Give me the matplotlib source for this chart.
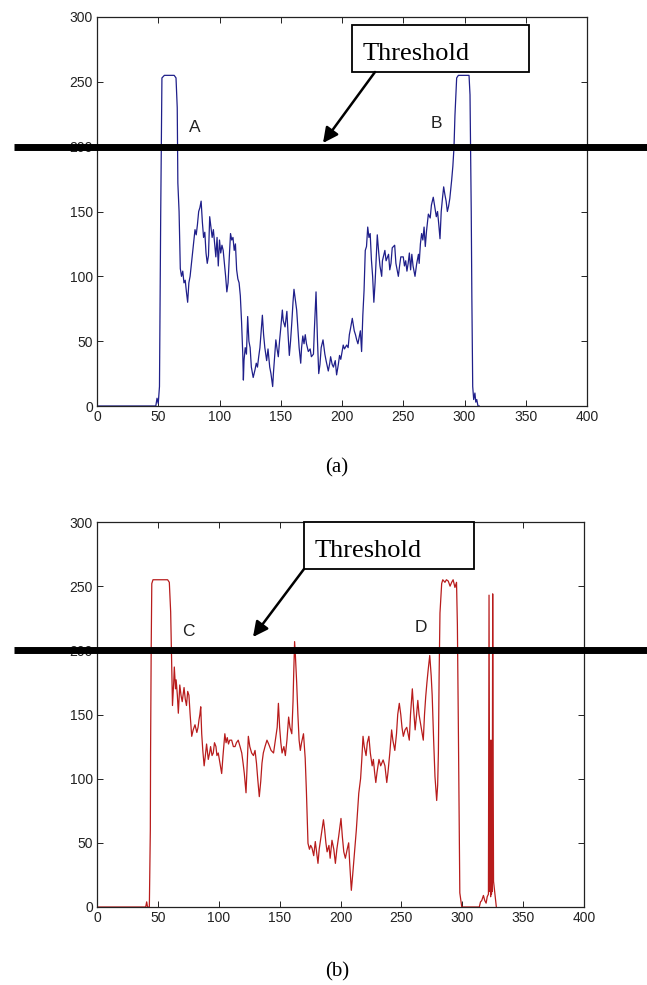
import matplotlib
matplotlib.use("Agg")
import matplotlib.pyplot as plt
import matplotlib.transforms as mtransforms
from matplotlib.patches import Rectangle, FancyArrowPatch
from matplotlib.lines import Line2D

# ---------------- data ----------------
xa = [0, 48, 49, 50, 51, 52, 53, 55, 60, 63, 64.5, 65.5, 66, 67, 68, 69, 70, 71, 72, 73, 74, 75, 76, 78, 80,
      81, 82, 83, 84, 85, 86, 87, 88, 89, 90, 91, 92, 93, 94, 95, 96, 97, 98, 99, 100, 101, 102, 103, 104,
      105, 106, 107, 108, 109, 110, 111, 112, 113, 114, 115, 116, 117, 118, 119, 119.5, 120, 121, 122, 123,
      124, 125, 126, 127.5, 129, 130, 131, 132, 133, 135, 136, 137, 138.5, 139.6, 141, 142, 143.4, 144, 146,
      147, 148, 149, 150, 151.3, 152, 153.5, 155, 156, 157, 158, 159, 160, 160.8, 161.5, 163, 164, 165,
      166.3, 167, 168, 169, 170, 171, 172.5, 174, 175, 176.7, 177.5, 178.8, 180, 181, 182, 183, 184.5, 186,
      187, 188.8, 190, 190.7, 192, 193, 194.5, 195.6, 197, 198, 199, 201, 202, 203.8, 205, 206, 207, 208.4,
      210, 211, 212, 213, 215, 216, 217, 218, 219, 220, 221, 222, 223, 224, 225, 226, 227, 228.8, 230, 231,
      232.4, 233, 235, 236, 238, 239, 240, 241, 243, 244, 246, 247, 248, 250, 251, 252, 253, 254, 255, 256,
      257, 258, 259.6, 261, 262.4, 263, 264, 265, 266, 267, 268, 269, 270.5, 272, 273, 274.5, 275.5, 277,
      278, 279, 280, 281, 282, 283, 284, 285, 286, 287, 288, 289.5, 290.5, 291.4, 292.2, 293, 293.6, 295,
      300, 303.7, 304.5, 305, 305.5, 306, 306.7, 307.5, 308.5, 309.2, 310, 311, 312]
ya = [0, 0, 6, 2, 15, 147, 253, 255, 255, 255, 253, 230, 172, 150, 106, 100, 104, 95, 97, 88, 80, 95, 100, 118, 136,
      132, 140, 150, 153, 158, 142, 130, 134, 118, 110, 116, 146, 138, 130, 136, 125, 115, 130, 108, 128, 118, 124, 120, 110,
      100, 88, 95, 115, 133, 128, 130, 120, 125, 105, 98, 95, 85, 65, 40, 20, 35, 45, 40, 69,
      50, 45, 30, 22, 28, 33, 30, 38, 45, 70, 55, 45, 35, 44, 30, 25, 15, 25, 51,
      44, 38, 50, 60, 74, 66, 61, 73, 55, 39, 50, 64, 80, 90, 85, 74, 60, 45,
      33, 45, 54, 48, 55, 48, 42, 44, 38, 40, 60, 88, 50, 25, 32, 45, 51, 40,
      35, 27, 33, 38, 32, 30, 35, 24, 32, 39, 36, 47, 44, 47, 45, 55, 60, 67.6,
      58, 55, 51, 48, 58, 42, 70, 89, 120, 123, 138, 130, 133, 113, 100, 80, 95, 132, 118, 108,
      100, 112, 120, 112, 117, 105, 110, 122, 124, 110, 100, 108, 115, 115, 108, 112, 104, 110, 118, 105,
      117, 108, 100, 110, 117, 110, 125, 133, 128, 138, 123, 135, 148, 145, 155, 161, 155, 146,
      150, 140, 129, 150, 160, 169, 163, 158, 150, 154, 160, 174, 185, 199, 224, 240, 253, 255,
      255, 255, 240, 192, 150, 84, 15, 5, 10, 3, 5, 0, 0]

xb = [0, 40, 40.8, 41.5, 43, 43.8, 44, 44.5, 45, 46, 50, 55, 58, 59.4, 60.5, 61.3, 62, 63, 63.5, 64.5, 65, 66,
      66.8, 68, 69, 70, 71.5, 72.5, 73.5, 74.5, 75.5, 76.5, 77.8, 79, 80.5, 82, 83, 83.8, 84.5, 85.2, 86,
      86.9, 88, 89, 90, 91.4, 92.5, 93.3, 94.5, 95.5, 96.5, 97.7, 98.5, 99.6, 101, 102.4, 103.5, 105, 106,
      107, 108, 109, 110.6, 112, 113.4, 114.5, 116, 117.5, 118.9, 120, 121, 122.4, 123.5, 124.3, 125.5,
      127, 128.5, 129.8, 131, 132, 133.3, 134.5, 135.5, 136.6, 138, 139.6, 141, 143, 145, 146.5, 148, 149,
      150, 151, 152, 153.5, 154.7, 156, 157.4, 158.5, 160, 161, 161.5, 162.3, 163, 164, 165, 166, 167, 168,
      169.6, 170.3, 171, 172, 173.3, 174.5, 175.5, 176.6, 178, 179.3, 180.5, 181.5, 182.5, 184, 186, 187,
      188, 189, 190.5, 191.5, 193, 194.5, 195.8, 197, 198.5, 200.4, 201.5, 202.7, 204, 205.5, 206.7, 207.5,
      208.9, 210, 211.7, 213, 215, 216.5, 217.5, 218.5, 219.5, 221, 222, 223.3, 224.5, 226, 227, 228, 229,
      230, 231.6, 233, 235, 236.5, 238, 239, 240.5, 242, 243, 244.6, 246, 247, 248.3, 249.5, 250.5, 251.6,
      253, 254.4, 255.5, 256.5, 257.5, 259, 260, 261.3, 262.5, 263.5, 264.5, 265.7, 267, 268, 269, 270,
      271, 272, 273.3, 274.5, 275.3, 276.5, 277.6, 279, 279.8, 280.4, 281, 281.7, 283.1, 284, 285.8, 287,
      288.5, 290, 291.3, 292.5, 294, 295.3, 296, 296.8, 297.5, 298, 299.6, 314, 315, 316, 317.4, 318.5,
      319.6, 320.5, 321.5, 322, 322.3, 322.6, 323, 323.3, 323.6, 324, 324.3, 324.6, 325, 325.3, 325.7,
      326.6, 327.3, 328]
yb = [0, 0, 4, 0, 0, 60, 120, 200, 252, 255, 255, 255, 255, 253, 230, 190, 157, 175, 187, 170, 177, 165,
      151, 173, 165, 160, 171, 162, 157, 168, 165, 150, 133, 138, 142, 136, 140, 146, 150, 156, 135,
      122, 110, 118, 127, 115, 120, 125, 118, 120, 128, 125, 118, 120, 112, 104, 118, 135, 128,
      132, 127, 130, 130, 125, 125, 128, 130, 125, 120, 112, 104, 89, 115, 133, 125,
      120, 118, 122, 112, 100, 86, 98, 112, 120, 125, 130, 127, 122, 120, 130, 140, 158.7,
      140, 128, 120, 125, 118, 130, 148, 140, 135, 160, 179.5, 206.8, 195, 175, 150, 130, 122, 128,
      135, 125, 116, 90, 49.6, 45, 48, 46, 40, 51, 42, 34, 45, 55, 68, 60,
      50, 43, 48, 38, 52, 45, 34, 45, 55, 69, 55, 43, 38, 45, 50, 35,
      13, 25, 45, 60, 88.6, 100, 115, 133, 125, 118, 128, 133, 120, 110, 115, 105, 97,
      105, 115, 110, 114.6, 110, 97, 105, 120, 138, 130, 122, 135, 150, 158.7, 150, 140, 133,
      138, 140, 135, 130, 150, 170, 155, 138, 150, 161, 150, 143, 135, 130, 150, 164,
      175, 184.7, 196, 180, 165, 130, 101.6, 83, 95, 120, 180, 229, 252, 255, 253, 255,
      254, 250, 253, 255, 249, 253, 220, 140.5, 60, 11, 0, 0, 4, 5, 9, 5,
      3, 8, 10, 243, 130, 12, 130, 8, 128, 10, 130, 12, 244, 133, 20,
      12, 5, 0]

threshold = 200
xticks = [0, 50, 100, 150, 200, 250, 300, 350, 400]
yticks = [0, 50, 100, 150, 200, 250, 300]
point_labels_a = [("A", 80, 215), ("B", 277, 218)]
point_labels_b = [("C", 75, 215), ("D", 266, 218)]
captions = ["(a)", "(b)"]
box_text = "Threshold"

# ---------------- figure ----------------
W, H = 647, 985
fig = plt.figure(figsize=(W / 100, H / 100), dpi=100)
fig.patch.set_facecolor("white")


def F(x, y):
    return (x / W, 1 - y / H)


def make_axes(left, top, right, bottom):
    ax = fig.add_axes([left / W, 1 - bottom / H, (right - left) / W, (bottom - top) / H])
    ax.set_xlim(0, 400)
    ax.set_ylim(0, 300)
    ax.set_xticks(xticks)
    ax.set_yticks(yticks)
    ax.tick_params(direction="in", top=True, right=True, length=4.5, width=0.7,
                   labelsize=10, pad=3, colors="#222222")
    for lab in ax.get_xticklabels() + ax.get_yticklabels():
        lab.set_family("Liberation Sans")
    for s in ax.spines.values():
        s.set_linewidth(0.9)
        s.set_color("#222222")
    return ax


ax1 = make_axes(97, 17, 587, 406)
ax2 = make_axes(97, 522, 584, 907)

ax1.plot(xa, ya, color="#1f1f8a", lw=0.9, zorder=2)
ax2.plot(xb, yb, color="#b81c1c", lw=0.9, zorder=2)

for ax, labels in ((ax1, point_labels_a), (ax2, point_labels_b)):
    for t, x, y in labels:
        ax.text(x, y, t, ha="center", va="center", fontsize=12.5,
                family="Liberation Sans", color="#222222")

# threshold lines spanning beyond axes
for ax in (ax1, ax2):
    tr = mtransforms.blended_transform_factory(fig.transFigure, ax.transData)
    ln = Line2D([14 / W, 1.0], [threshold, threshold], transform=tr, color="black",
                lw=5.0, solid_capstyle="butt", zorder=5)
    fig.add_artist(ln)

# Threshold boxes + arrows
boxes = [(352, 25, 529, 72, 363, 60, (375, 72), (323, 143)),
         (304, 522, 474, 569, 315, 557, (304, 569), (253, 637))]
for (l, t, r, b, tx, ty, a0, a1) in boxes:
    rect = Rectangle(F(l, b), (r - l) / W, (b - t) / H, transform=fig.transFigure,
                     facecolor="white", edgecolor="black", lw=1.3, zorder=6)
    fig.add_artist(rect)
    fig.text(*F(tx, ty), box_text, ha="left", va="baseline", fontsize=19,
             family="Liberation Serif", color="black", zorder=7)
    arr = FancyArrowPatch(F(*a0), F(*a1), transform=fig.transFigure,
                          arrowstyle="-|>,head_length=0.9,head_width=0.45",
                          mutation_scale=10, lw=1.8, color="black",
                          shrinkA=0, shrinkB=0, zorder=7)
    fig.add_artist(arr)

fig.text(*F(337, 468), captions[0], ha="center", va="center", fontsize=15,
         family="Liberation Serif")
fig.text(*F(337, 972), captions[1], ha="center", va="center", fontsize=15,
         family="Liberation Serif")

fig.savefig("out.png", dpi=100)
